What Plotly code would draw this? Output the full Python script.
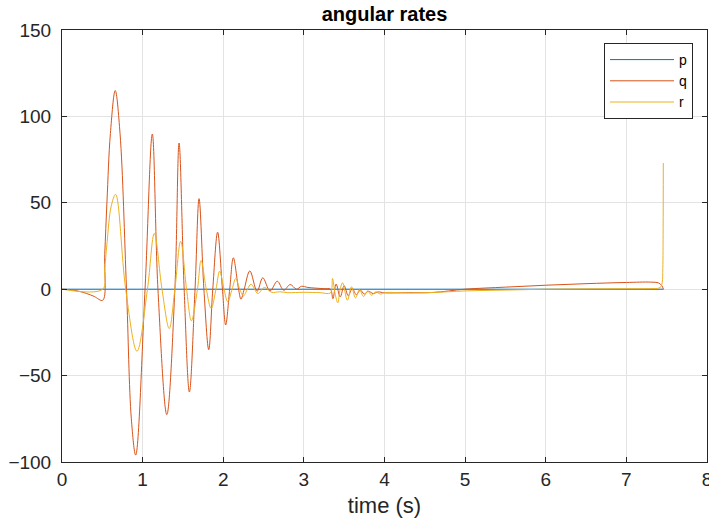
import plotly.graph_objects as go

# ---- data ----
p_t = [0.0, 7.46]
p_v = [0.0, 0.0]

q_t = [0.0, 0.1, 0.2, 0.3, 0.4, 0.505, 0.53, 0.558, 0.6, 0.66, 0.72, 0.80, 0.86, 0.914,
       1.03, 1.12, 1.19, 1.30, 1.40, 1.452, 1.515, 1.58, 1.65, 1.70, 1.76, 1.82, 1.87,
       1.93, 1.99, 2.03, 2.08, 2.125, 2.19, 2.22, 2.26, 2.33, 2.42, 2.49, 2.58, 2.67,
       2.75, 2.83, 2.91, 2.97, 3.05, 3.15, 3.25, 3.33, 3.36, 3.40, 3.45, 3.50, 3.55,
       3.60, 3.65, 3.70, 3.75, 3.80, 3.86, 3.92, 4.0, 4.3, 4.6, 5.0, 5.5, 6.0, 6.5,
       7.0, 7.3, 7.4, 7.44, 7.46]
q_v = [0.0, -0.3, -1.1, -2.4, -4.2, -6.4, 20.0, 51.0, 90.0, 115.0, 90.0, 0.0, -75.0, -96.0,
       0.0, 89.8, 0.0, -72.6, 0.0, 84.6, 0.0, -59.5, 0.0, 52.4, 0.0, -35.0, 0.0,
       33.0, 0.0, -20.7, 0.0, 18.2, 0.0, -5.8, 0.0, 10.6, -1.2, 6.6, -1.0, 4.6,
       -0.6, 2.7, 0.0, 1.7, 1.0, 0.6, 0.3, 0.0, -5.5, 3.0, -4.5, 2.0, -3.8,
       0.5, -3.2, -0.5, -2.8, -1.2, -2.5, -1.6, -2.1, -2.0, -1.9, 0.0, 1.2, 2.3, 3.2,
       3.9, 4.1, 3.6, 2.0, 0.0]

r_t = [0.0, 0.505, 0.53, 0.558, 0.61, 0.665, 0.79, 0.93, 1.06, 1.145, 1.24, 1.33, 1.40, 1.472,
       1.545, 1.605, 1.68, 1.725, 1.79, 1.85, 1.91, 1.955, 2.01, 2.055, 2.11, 2.155,
       2.205, 2.25, 2.30, 2.345, 2.43, 2.51, 2.6, 2.7, 2.8, 3.0, 3.2, 3.33, 3.355,
       3.385, 3.42, 3.45, 3.48, 3.54, 3.59, 3.64, 3.69, 3.74, 3.79, 3.84, 3.89, 3.95,
       4.0, 4.3, 4.6, 5.0, 5.5, 6.0, 6.5, 7.0, 7.3, 7.40, 7.43, 7.445, 7.452, 7.456, 7.458]
r_v = [0.0, 0.0, 12.0, 26.5, 48.0, 54.9, 0.0, -35.9, 0.0, 32.3, 0.0, -22.8, 0.0, 27.8,
       0.0, -18.3, 0.0, 16.6, 0.0, -11.2, 0.0, 10.4, 0.0, -7.3, 0.0, 6.2,
       0.0, -3.9, 0.0, 2.9, -2.5, 1.0, -1.8, -1.5, -2.0, -1.8, -2.0, -2.1, 6.2,
       -2.0, -7.9, 0.0, 3.7, -6.4, 1.4, -5.0, -0.3, -4.2, -1.0, -3.5, -1.5, -2.8,
       -2.0, -2.2, -1.9, -1.0, -0.5, 0.0, 0.2, 0.3, 0.4, 0.6, 1.5, 4.0, 12.0, 35.0, 73.0]

x_ticks = [0, 1, 2, 3, 4, 5, 6, 7, 8]
y_ticks = [-100, -50, 0, 50, 100, 150]

FONT = "Liberation Sans, Arial, Helvetica, sans-serif"

fig = go.Figure()
fig.add_trace(go.Scatter(x=p_t, y=p_v, mode="lines", name="p",
                         line=dict(color="#0072BD", width=1)))
fig.add_trace(go.Scatter(x=q_t, y=q_v, mode="lines", name="q",
                         line=dict(color="#D95319", width=1, shape="spline", smoothing=1.0)))
fig.add_trace(go.Scatter(x=r_t, y=r_v, mode="lines", name="r",
                         line=dict(color="#EDB120", width=1, shape="spline", smoothing=1.0)))

axis_common = dict(showgrid=True, gridcolor="#e3e3e3", gridwidth=1,
                   showline=True, linecolor="#262626", linewidth=1, mirror="ticks",
                   ticks="inside", ticklen=5, tickcolor="#262626", zeroline=False,
                   automargin=False, ticklabeloverflow="allow",
                   tickfont=dict(family=FONT, size=19, color="#262626"))

fig.update_layout(
    width=709, height=518,
    margin=dict(l=62, r=2, t=30, b=56, autoexpand=False),
    paper_bgcolor="white", plot_bgcolor="white",
    title=dict(text="<b>angular rates</b>", x=(62 + 707) / 2 / 709, xanchor="center",
               y=1 - 14 / 518, yanchor="middle", yref="container",
               font=dict(family=FONT, size=20, color="black")),
    xaxis=dict(range=[0, 8], tickvals=x_ticks, **axis_common,
               title=dict(text="time (s)", font=dict(family=FONT, size=22, color="#262626"),
                          standoff=8)),
    yaxis=dict(range=[-100, 150], tickvals=y_ticks, ticklabelstandoff=6, **axis_common),
    legend=dict(x=(604 - 62) / 645, y=(462 - 43) / 432, xanchor="left", yanchor="top",
                bgcolor="white", bordercolor="#262626", borderwidth=1,
                font=dict(family=FONT, size=14, color="black"),
                itemwidth=64, tracegroupgap=0),
    showlegend=True,
)

fig.write_html("out.html", config={"displayModeBar": False},
               post_script="document.body.style.margin='0';")
